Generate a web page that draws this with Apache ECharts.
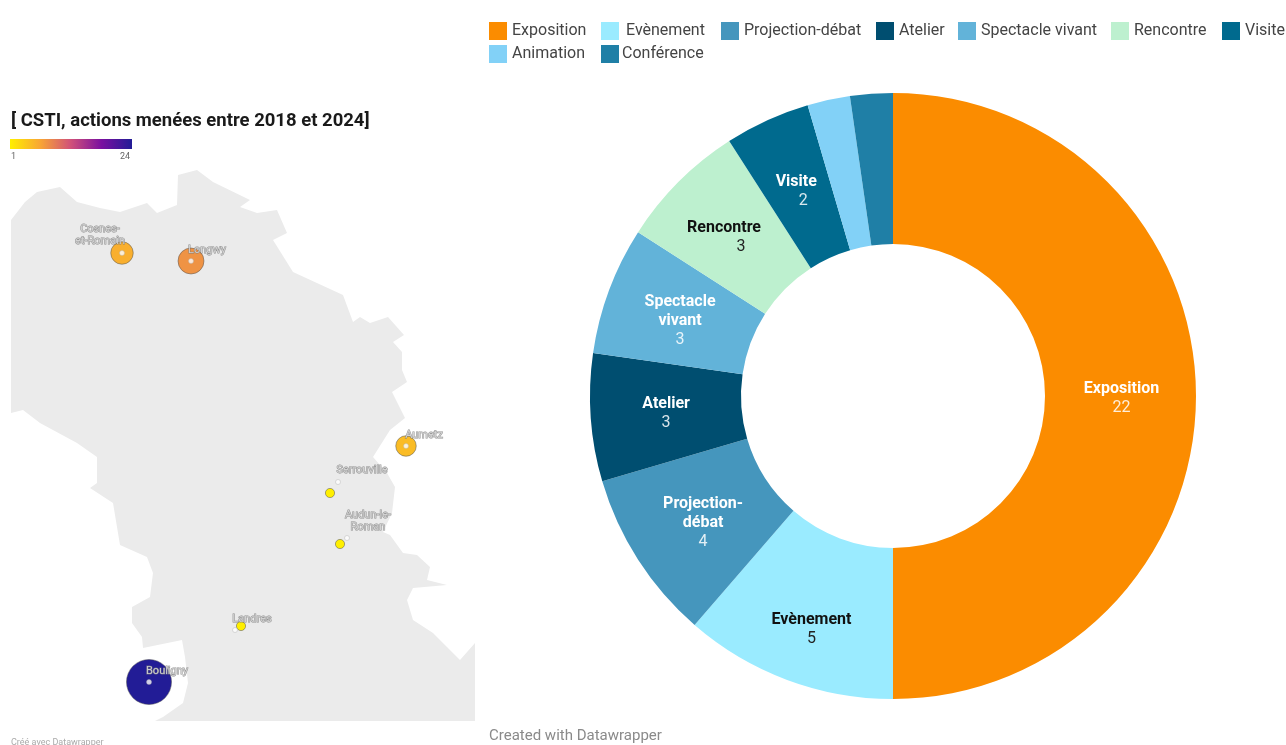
<!DOCTYPE html>
<html><head><meta charset="utf-8">
<style>html,body{margin:0;padding:0;background:#fff}#c{width:1286px;height:745px}</style>
<script src="https://cdn.jsdelivr.net/npm/echarts@6/dist/echarts.min.js"></script>
</head><body><div id="c"></div>
<script>
const categories=['Exposition','Evènement','Projection-débat','Atelier','Spectacle vivant','Rencontre','Visite','Animation','Conférence'];
const pieLabels=['Exposition','Evènement','Projection-\ndébat','Atelier','Spectacle\nvivant','Rencontre','Visite','',''];
const values=[22,5,4,3,3,3,2,1,1];
const colors=['#fb8c00','#9aebff','#4596bd','#004e70','#62b3d9','#bdf0cf','#006a8e','#82d1f7','#1f7fa6'];
const darkLabel=[false,true,false,false,false,true,false,false,false];
const cities=['Cosnes-\net-Romain','Longwy','Aumetz','Serrouville','Audun-le-\nRoman','Landres','Bouligny'];
const cityX=[122,191,406,330,340,241,149];
const cityY=[253,261,446,493,544,626,682];
const cityValues=[6,8,5,1,1,1,24];
const anchorX=[122,191,406,338,347,235,149];
const anchorY=[253,261,446,482,538,630,682];
const labelX=[100,207,424,362,368,252,167];
const labelY=[235,250,435,470,521,619,671];
const region=[[11,220],[25,202],[37,192],[60,187],[77,202],[100,208],[120,212],[147,203],[157,213],[177,205],[178,175],[197,170],[213,182],[250,200],[240,207],[257,213],[277,210],[287,233],[273,240],[293,272],[343,295],[353,322],[360,317],[370,323],[388,317],[404,335],[393,342],[402,352],[402,370],[407,382],[392,392],[405,418],[390,430],[373,457],[387,473],[395,487],[392,513],[383,532],[390,535],[403,553],[417,555],[430,567],[427,580],[447,585],[413,588],[407,600],[413,620],[433,633],[447,647],[460,660],[475,643],[475,721],[155,721],[163,717],[183,703],[188,683],[185,657],[182,640],[143,648],[142,637],[132,623],[132,607],[150,597],[153,573],[147,557],[120,545],[118,533],[113,503],[90,488],[97,483],[97,457],[77,443],[40,423],[23,410],[11,413]];
const scaleStops=['#ffef00','#f8a535','#d0507a','#7a10a0','#221c96'];
const legendX=[489,601,721,876,958,1111,1222,489,601];
const legendY=[22,22,22,22,22,22,22,45,45];
const labelOffX=[-2,-1,4,3,3,-6,-1,0,0];
const labelOffY=[2,18,2,1,6,4,5,0,0];
const valueShift=[0,0,0,0,0,34,14,0,0];
const rScale=v=>2*22.5*Math.sqrt(v/24);
const font='Roboto';
const chart=echarts.init(document.getElementById('c'));
const titleAt=(text,left,top,size,weight,color)=>({text,left,top,padding:0,textStyle:{fontFamily:font,fontSize:size,fontWeight:weight,color}});
chart.setOption({
 animation:false,
 textStyle:{fontFamily:font},
 title:[
  titleAt('[ CSTI, actions menées entre 2018 et 2024]',11,112,18.5,700,'#1a1a1a'),
  titleAt('1',11,152,9,400,'#666'),
  titleAt('24',120,152,9,400,'#666'),
  titleAt('Created with Datawrapper',489,729,15,400,'#8a8a8a'),
  titleAt('Créé avec Datawrapper',11,738,9,400,'#aaa')
 ],
 legend:categories.map((c,i)=>({data:[c],left:legendX[i],top:legendY[i],padding:0,itemWidth:18,itemHeight:18,icon:'rect',selectedMode:false,
  textStyle:{fontFamily:font,fontSize:16,color:'#444',padding:i===1?[0,0,0,2]:(i===8?[0,0,0,-2]:0)}})),
 visualMap:{type:'continuous',min:1,max:24,seriesIndex:2,show:false,inRange:{color:scaleStops},dimension:2},
 grid:{left:0,top:0,width:1286,height:745},
 xAxis:{type:'value',min:0,max:1286,show:false},
 yAxis:{type:'value',min:0,max:745,inverse:true,show:false},
 graphic:[{type:'rect',shape:{x:10,y:139,width:122,height:10},z:10,silent:true,
  style:{fill:new echarts.graphic.LinearGradient(0,0,1,0,scaleStops.map((c,i)=>({offset:i/(scaleStops.length-1),color:c})))}}],
 series:[
  {type:'custom',coordinateSystem:'cartesian2d',silent:true,z:1,data:[0],
   renderItem:(p,api)=>({type:'polygon',shape:{points:region.map(c=>api.coord(c))},style:{fill:'#ebebeb'}})},
  {type:'pie',z:3,center:[893,396],radius:[152,303],startAngle:90,clockwise:true,avoidLabelOverlap:false,
   legendHoverLink:false,
   labelLine:{show:false},
   data:categories.map((c,i)=>({name:c,value:values[i],itemStyle:{color:colors[i]},
    label:{show:!!pieLabels[i],position:'inside',offset:[labelOffX[i],labelOffY[i]],formatter:()=>`{n|${pieLabels[i].replace('\n','}\n{n|')}}\n{v|${values[i]}}`,
     rich:{n:{fontFamily:font,fontSize:16,fontWeight:700,lineHeight:19,color:darkLabel[i]?'#111':'#fff'},
           v:{fontFamily:font,fontSize:16,lineHeight:19,padding:[0,0,0,valueShift[i]],color:darkLabel[i]?'#222':'rgba(255,255,255,.85)'}}}}))},
  {type:'scatter',z:4,data:cities.map((c,i)=>[cityX[i],cityY[i],cityValues[i]]),encode:{x:0,y:1},
   symbolSize:d=>rScale(d[2]),itemStyle:{opacity:1,borderColor:'rgba(80,80,80,.7)',borderWidth:.7}},
  {type:'scatter',z:5,data:cities.map((c,i)=>[anchorX[i],anchorY[i]]),symbolSize:5,
   itemStyle:{color:'#fff',borderColor:'#aaa',borderWidth:.5}},
  {type:'scatter',z:6,symbolSize:0,data:cities.map((c,i)=>({value:[labelX[i],labelY[i]],
    label:{show:true,position:'inside',formatter:c,fontFamily:font,fontSize:11,lineHeight:12,color:'#e4e4e4',textBorderColor:'#777',textBorderWidth:1}}))}
 ]
});
</script></body></html>
